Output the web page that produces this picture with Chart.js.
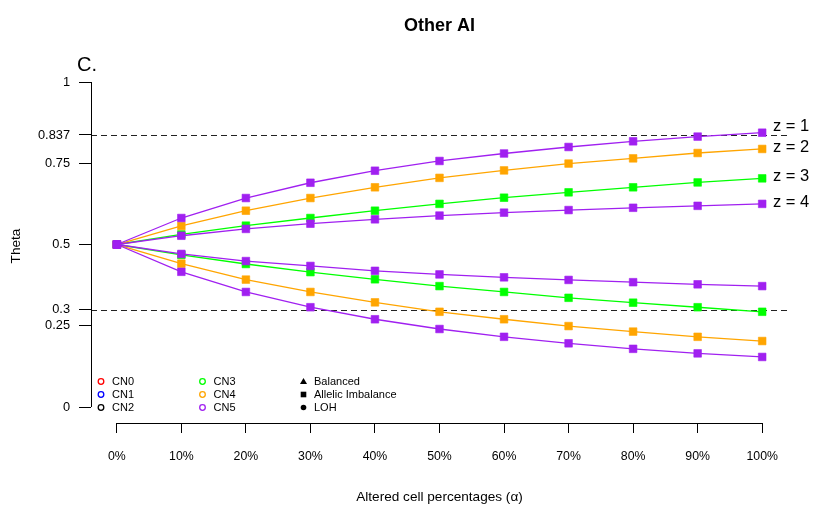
<!DOCTYPE html>
<html>
<head>
<meta charset="utf-8">
<script src="https://cdn.jsdelivr.net/npm/chart.js@4.4.0/dist/chart.umd.min.js"></script>
<style>
  body { margin: 0; background: #fff; }
  canvas { display: block; }
</style>
</head>
<body>
<canvas id="thetaChart" width="815" height="510"></canvas>
<script>
// Données
const alphaPct = [0, 10, 20, 30, 40, 50, 60, 70, 80, 90, 100];
const yTickValues = [0, 0.25, 0.3, 0.5, 0.75, 0.837, 1];
const refLines = [0.837, 0.3];

const upperZ1 = [0.5, 0.5815, 0.643, 0.690, 0.727, 0.757, 0.780, 0.800, 0.8175, 0.832, 0.844];
const upperZ2 = [0.5, 0.557, 0.604, 0.643, 0.676, 0.705, 0.728, 0.749, 0.765, 0.7815, 0.794];
const upperZ3 = [0.5, 0.531, 0.558, 0.5815, 0.604, 0.625, 0.644, 0.6605, 0.676, 0.691, 0.7035];
const upperZ4 = [0.5, 0.527, 0.548, 0.564, 0.5775, 0.589, 0.598, 0.606, 0.613, 0.619, 0.625];
const lowerZ1 = [0.5, 0.416, 0.354, 0.307, 0.270, 0.240, 0.216, 0.196, 0.179, 0.165, 0.154];
const lowerZ2 = [0.5, 0.441, 0.392, 0.354, 0.322, 0.293, 0.270, 0.249, 0.232, 0.216, 0.203];
const lowerZ3 = [0.5, 0.468, 0.440, 0.415, 0.393, 0.372, 0.354, 0.336, 0.321, 0.307, 0.293];
const lowerZ4 = [0.5, 0.471, 0.449, 0.434, 0.419, 0.408, 0.399, 0.391, 0.384, 0.3775, 0.372];

const zLabels = ['z = 1', 'z = 2', 'z = 3', 'z = 4'];
const cnLabels = ['CN0', 'CN1', 'CN2', 'CN3', 'CN4', 'CN5'];
const cnColors = ['#FF0000', '#0000FF', '#000000', '#00FF00', '#FFA500', '#A020F0'];
const typeLabels = ['Balanced', 'Allelic Imbalance', 'LOH'];

const PURPLE = '#A020F0', ORANGE = '#FFA500', GREEN = '#00FF00';
const FONT = 'Liberation Sans';

Chart.defaults.font.family = FONT;
Chart.defaults.color = '#000';

function serie(values, color) {
    return {
        data: alphaPct.map((a, i) => ({ x: a, y: values[i] })),
        borderColor: color,
        backgroundColor: color,
        borderWidth: 1.3,
        pointStyle: 'rect',
        pointRadius: 5.4,
        pointBorderWidth: 1,
        pointBorderColor: color + '99',
        pointBackgroundColor: color,
        tension: 0,
        fill: false
    };
}

// le premier dataset est dessiné au-dessus
const datasets = [
    serie(upperZ4, PURPLE), serie(lowerZ4, PURPLE),
    serie(upperZ1, PURPLE), serie(lowerZ1, PURPLE),
    serie(upperZ2, ORANGE), serie(lowerZ2, ORANGE),
    serie(upperZ3, GREEN), serie(lowerZ3, GREEN)
];

// Axes façon R, lignes pointillées, textes et légende
const decorPlugin = {
    id: 'decor',
    beforeDatasetsDraw(chart) {
        const { ctx, chartArea, scales: { x, y } } = chart;
        ctx.save();
        ctx.strokeStyle = '#222';
        ctx.lineWidth = 1;
        ctx.setLineDash([6, 4]);
        refLines.forEach(v => {
            const py = Math.round(y.getPixelForValue(v)) + 0.5;
            ctx.beginPath();
            ctx.moveTo(chartArea.left, py);
            ctx.lineTo(chartArea.right, py);
            ctx.stroke();
        });
        ctx.setLineDash([]);
        ctx.strokeStyle = '#000';
        // axe y : de 0 à 1 seulement
        const ax = Math.round(chartArea.left) + 0.5;
        ctx.beginPath();
        ctx.moveTo(ax, y.getPixelForValue(0));
        ctx.lineTo(ax, y.getPixelForValue(1));
        ctx.stroke();
        // axe x : de 0% à 100%
        const ay = Math.round(chartArea.bottom) + 0.5;
        ctx.beginPath();
        ctx.moveTo(x.getPixelForValue(0), ay);
        ctx.lineTo(x.getPixelForValue(100), ay);
        ctx.stroke();
        ctx.restore();
    },
    afterDraw(chart) {
        const { ctx, chartArea, scales: { y } } = chart;
        ctx.save();
        ctx.fillStyle = '#000';
        ctx.textBaseline = 'alphabetic';

        ctx.font = 'bold 18px ' + FONT;
        ctx.textAlign = 'center';
        ctx.fillText('Other AI', (chartArea.left + chartArea.right) / 2, 31);

        ctx.font = '20px ' + FONT;
        ctx.textAlign = 'left';
        ctx.fillText('C.', 77, 70.5);

        // étiquettes z à droite
        ctx.font = '16.5px ' + FONT;
        ctx.textBaseline = 'middle';
        const zY = [0.8625, 0.798, 0.710, 0.629];
        zLabels.forEach((t, i) => ctx.fillText(t, 773, y.getPixelForValue(zY[i])));

        // légende
        ctx.font = '11px ' + FONT;
        const left = chartArea.left;
        const rows = [381.5, 394.5, 407.5];
        cnLabels.forEach((t, i) => {
            const col = Math.floor(i / 3), r = i % 3;
            const cx = left + 10 + col * 101.5;
            ctx.strokeStyle = cnColors[i];
            ctx.lineWidth = 1.3;
            ctx.beginPath();
            ctx.arc(cx, rows[r], 2.8, 0, Math.PI * 2);
            ctx.stroke();
            ctx.fillStyle = '#000';
            ctx.fillText(t, cx + 11, rows[r] + 0.5);
        });
        const sx = left + 212.5;
        typeLabels.forEach((t, r) => {
            const cy = rows[r];
            ctx.fillStyle = '#000';
            ctx.beginPath();
            if (r === 0) {
                ctx.moveTo(sx, cy - 3.5);
                ctx.lineTo(sx + 3.5, cy + 2.5);
                ctx.lineTo(sx - 3.5, cy + 2.5);
                ctx.closePath();
            } else if (r === 1) {
                ctx.rect(sx - 2.8, cy - 2.8, 5.6, 5.6);
            } else {
                ctx.arc(sx, cy, 2.8, 0, Math.PI * 2);
            }
            ctx.fill();
            ctx.fillText(t, sx + 10.5, cy + 0.5);
        });
        ctx.restore();
    }
};

const thetaChartConfig = {
    type: 'line',
    data: { datasets: datasets },
    options: {
        responsive: false,
        animation: false,
        devicePixelRatio: 1,
        layout: { padding: { top: 69, right: 27, left: 0, bottom: 0 } },
        plugins: {
            legend: { display: false },
            tooltip: { enabled: false },
            title: { display: false }
        },
        scales: {
            x: {
                type: 'linear',
                min: -4,
                max: 104,
                afterBuildTicks: s => { s.ticks = alphaPct.map(v => ({ value: v })); },
                afterFit: s => { s.height = 87; },
                grid: { drawOnChartArea: false, drawTicks: true, tickLength: 10, color: '#000', tickColor: '#000', lineWidth: 1 },
                border: { display: false },
                ticks: {
                    padding: 16,
                    autoSkip: false,
                    maxRotation: 0,
                    font: { size: 12.3 },
                    callback: v => v + '%'
                },
                title: {
                    display: true,
                    text: 'Altered cell percentages (α)',
                    font: { size: 13.6 },
                    padding: { top: 0, bottom: 5 }
                }
            },
            y: {
                type: 'linear',
                min: -0.0492,
                max: 1.04,
                afterBuildTicks: s => { s.ticks = yTickValues.map(v => ({ value: v })); },
                afterFit: s => { s.width = 91; },
                grid: { drawOnChartArea: false, drawTicks: true, tickLength: 12, color: '#000', tickColor: '#000', lineWidth: 1 },
                border: { display: false },
                ticks: {
                    padding: 9,
                    autoSkip: false,
                    font: { size: 12.8 },
                    callback: v => String(v)
                },
                title: {
                    display: true,
                    text: 'Theta',
                    font: { size: 13.6 },
                    padding: { top: 8, bottom: 0 }
                }
            }
        }
    },
    plugins: [decorPlugin]
};

document.addEventListener('DOMContentLoaded', function() {
    const ctx = document.getElementById('thetaChart').getContext('2d');
    new Chart(ctx, thetaChartConfig);
});
</script>
</body>
</html>
